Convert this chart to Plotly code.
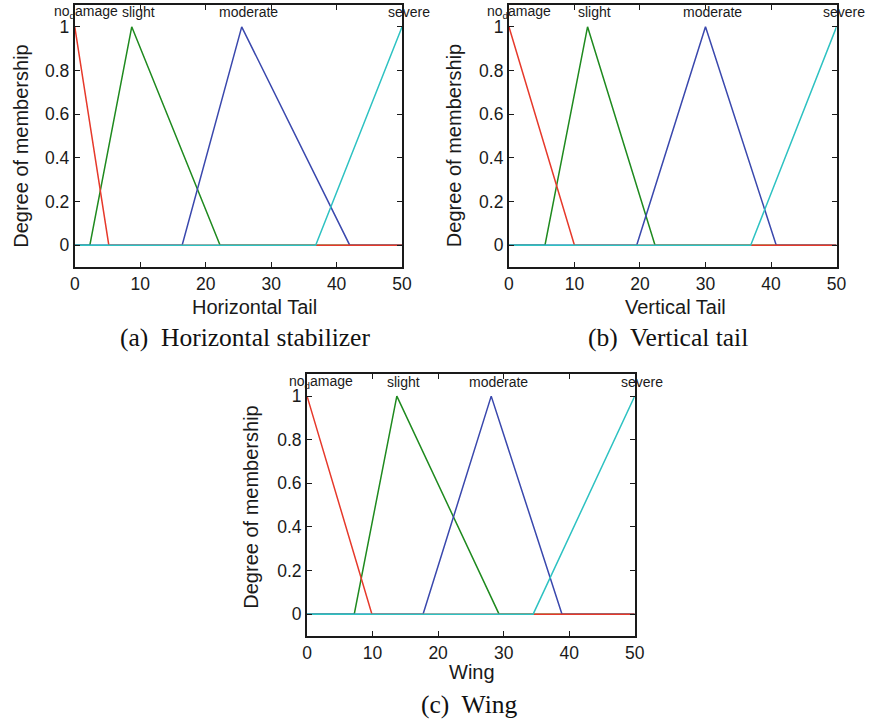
import plotly.graph_objects as go

W, H = 877, 722

# ---------------- data ----------------
mf_names = ["no_damage", "slight", "moderate", "severe"]
mf_labels = ["no<sub>d</sub>amage", "slight", "moderate", "severe"]

# Horizontal tail
ht_no_damage_x = [0, 5.2, 50]
ht_no_damage_y = [1, 0, 0]
ht_slight_x = [0, 2.3, 8.7, 22.2, 50]
ht_slight_y = [0, 0, 1, 0, 0]
ht_moderate_x = [0, 16.4, 25.5, 42.0, 50]
ht_moderate_y = [0, 0, 1, 0, 0]
ht_severe_x = [0, 36.8, 50]
ht_severe_y = [0, 0, 1]
ht_peaks = [0, 8.7, 25.5, 50]

# Vertical tail
vt_no_damage_x = [0, 10.0, 50]
vt_no_damage_y = [1, 0, 0]
vt_slight_x = [0, 5.5, 12.0, 22.3, 50]
vt_slight_y = [0, 0, 1, 0, 0]
vt_moderate_x = [0, 19.5, 30.0, 40.8, 50]
vt_moderate_y = [0, 0, 1, 0, 0]
vt_severe_x = [0, 36.9, 50]
vt_severe_y = [0, 0, 1]
vt_peaks = [0, 12.0, 30.0, 50]

# Wing
wg_no_damage_x = [0, 9.9, 50]
wg_no_damage_y = [1, 0, 0]
wg_slight_x = [0, 7.2, 13.7, 29.3, 50]
wg_slight_y = [0, 0, 1, 0, 0]
wg_moderate_x = [0, 17.7, 28.1, 38.9, 50]
wg_moderate_y = [0, 0, 1, 0, 0]
wg_severe_x = [0, 34.5, 50]
wg_severe_y = [0, 0, 1]
wg_peaks = [0, 13.7, 28.1, 50]

x_ticks = [0, 10, 20, 30, 40, 50]
y_ticks = [0, 0.2, 0.4, 0.6, 0.8, 1]
y_ticktext = ["0", "0.2", "0.4", "0.6", "0.8", "1"]

x_titles = ["Horizontal Tail", "Vertical Tail", "Wing"]
y_title = "Degree of membership"
captions = ["(a)  Horizontal stabilizer", "(b)  Vertical tail", "(c)  Wing"]

colors = {"no_damage": "#e6392b", "slight": "#1f8a1f",
          "moderate": "#3a48ad", "severe": "#2ec2c2"}


def px(v):
    return min(1.0, max(0.0, v / W))


def py(v):
    return min(1.0, max(0.0, 1 - v / H))


panels = [
    dict(curves={"no_damage": (ht_no_damage_x, ht_no_damage_y),
                 "slight": (ht_slight_x, ht_slight_y),
                 "moderate": (ht_moderate_x, ht_moderate_y),
                 "severe": (ht_severe_x, ht_severe_y)},
         peaks=ht_peaks, box=(71, 404, 5, 267), xt=x_titles[0], cap=captions[0],
         xtitle_pos=(254, 307), ytitle_pos=(16, 146), cap_pos=(244, 337), nd_shift=11),
    dict(curves={"no_damage": (vt_no_damage_x, vt_no_damage_y),
                 "slight": (vt_slight_x, vt_slight_y),
                 "moderate": (vt_moderate_x, vt_moderate_y),
                 "severe": (vt_severe_x, vt_severe_y)},
         peaks=vt_peaks, box=(512.7, 846, 5, 267), xt=x_titles[1], cap=captions[1],
         xtitle_pos=(682, 307), ytitle_pos=(457, 146), cap_pos=(675, 337), nd_shift=10),
    dict(curves={"no_damage": (wg_no_damage_x, wg_no_damage_y),
                 "slight": (wg_slight_x, wg_slight_y),
                 "moderate": (wg_moderate_x, wg_moderate_y),
                 "severe": (wg_severe_x, wg_severe_y)},
         peaks=wg_peaks, box=(307.3, 640.7, 374.3, 636), xt=x_titles[2], cap=captions[2],
         xtitle_pos=(475, 672), ytitle_pos=(250, 507), cap_pos=(472, 704), nd_shift=14),
]

fig = go.Figure()
annotations = []
draw_order = ["slight", "moderate", "no_damage", "severe"]
axis_font = "Liberation Sans, Arial, sans-serif"

for i, p in enumerate(panels):
    sfx = "" if i == 0 else str(i + 1)
    xref, yref = "x" + sfx, "y" + sfx
    for name in draw_order:
        xs, ys = p["curves"][name]
        fig.add_trace(go.Scatter(x=xs, y=ys, mode="lines", xaxis=xref, yaxis=yref,
                                 line=dict(color=colors[name], width=1.5),
                                 showlegend=False, hoverinfo="skip", name=name))
    x0, x1, t, b = p["box"]
    ax_common = dict(showgrid=False, zeroline=False, showline=True, linecolor="#1a1a1a",
                     linewidth=2, mirror="ticks", ticks="inside", ticklen=5,
                     tickcolor="#1a1a1a", tickwidth=1,
                     tickfont=dict(family=axis_font, size=17.5, color="#1a1a1a"))
    fig.layout["xaxis" + sfx] = dict(domain=[px(x0), px(x1)], range=[0, 50],
                                     tickvals=x_ticks, anchor=yref, **ax_common)
    fig.layout["yaxis" + sfx] = dict(domain=[py(b), py(t)], range=[-0.1, 1.1],
                                     tickvals=y_ticks, ticktext=y_ticktext,
                                     anchor=xref, **ax_common)
    # membership function labels
    for j, name in enumerate(mf_names):
        annotations.append(dict(x=p["peaks"][j], y=1.066, xref=xref, yref=yref,
                                text=mf_labels[j], showarrow=False,
                                xanchor="center", yanchor="middle",
                                xshift=(p["nd_shift"] if name == "no_damage" else 7),
                                font=dict(family=axis_font, size=14, color="#1a1a1a")))
    # axis titles
    annotations.append(dict(x=px(p["xtitle_pos"][0]), y=py(p["xtitle_pos"][1]),
                            xref="paper", yref="paper", text=p["xt"], showarrow=False,
                            xanchor="center", yanchor="middle",
                            font=dict(family=axis_font, size=20, color="#1a1a1a")))
    annotations.append(dict(x=px(p["ytitle_pos"][0]), y=py(p["ytitle_pos"][1]),
                            xref="paper", yref="paper", text=y_title, showarrow=False,
                            textangle=-90, xanchor="center", yanchor="middle",
                            font=dict(family=axis_font, size=20, color="#1a1a1a")))
    # caption
    annotations.append(dict(x=px(p["cap_pos"][0]), y=py(p["cap_pos"][1]),
                            xref="paper", yref="paper", text=p["cap"], showarrow=False,
                            xanchor="center", yanchor="middle",
                            font=dict(family="Liberation Serif, Times New Roman, serif",
                                      size=25.5, color="#111111")))

fig.update_layout(width=W, height=H, margin=dict(l=0, r=0, t=0, b=0),
                  paper_bgcolor="white", plot_bgcolor="white",
                  annotations=annotations, showlegend=False)

# let the figure fill the window exactly (no default page margin, no scrollbars)
fig.write_html("out.html",
               config={"displayModeBar": False},
               post_script="document.body.style.margin='0';"
                           "document.documentElement.style.overflow='hidden';"
                           "document.body.style.overflow='hidden';")
